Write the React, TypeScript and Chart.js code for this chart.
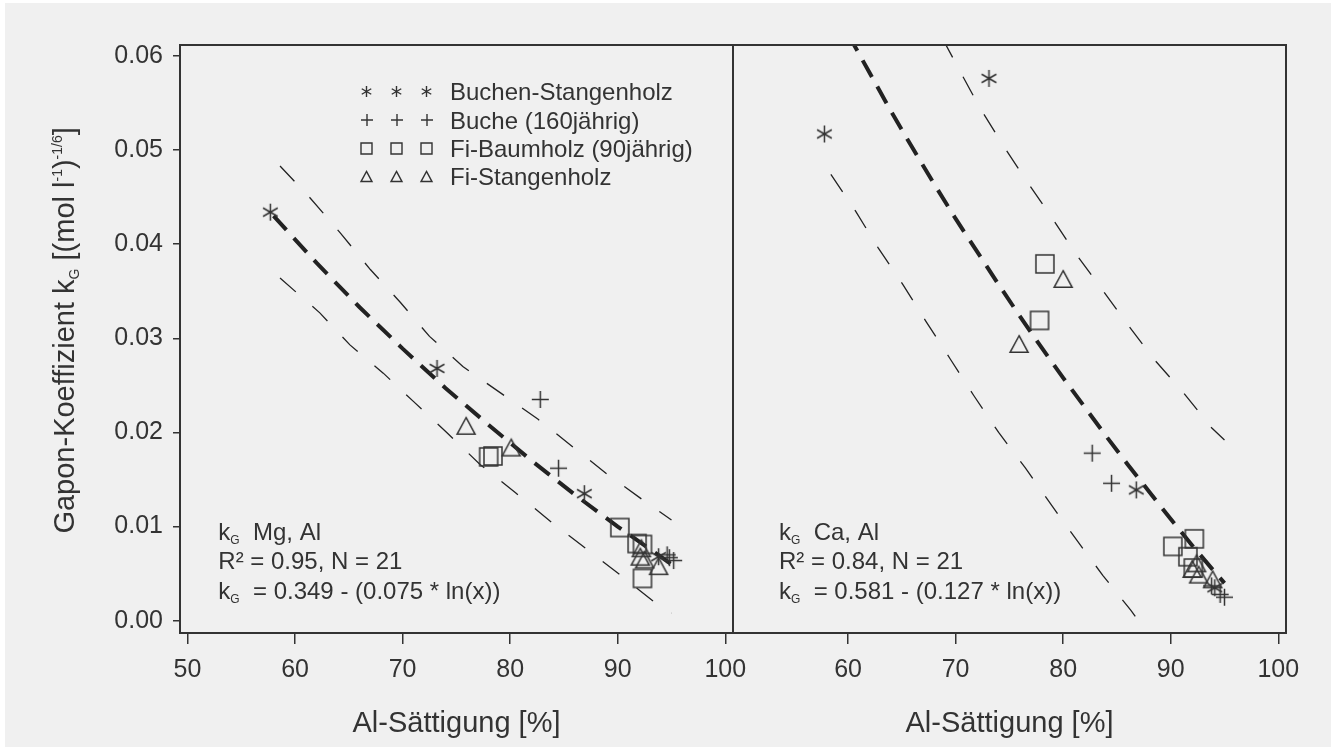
import React, { useEffect, useRef } from "react";
import { Chart, registerables } from "chart.js";

Chart.register(...registerables);

type Pt = { x: number; y: number };
const pts = (a: number[][]): Pt[] => a.map(([x, y]) => ({ x, y }));

// ---------- axes ----------
const X_MIN = 49.3;
const X_MAX = 100.72;
const Y_MIN = -0.0013;
const Y_MAX = 0.06115;
const X_TICKS_LEFT = [50, 60, 70, 80, 90, 100];
const X_TICKS_RIGHT = [60, 70, 80, 90, 100];
const Y_TICKS = [0, 0.01, 0.02, 0.03, 0.04, 0.05, 0.06];
const X_TITLE = "Al-Sättigung [%]";

// ---------- legend ----------
const SERIES_LABELS = ["Buchen-Stangenholz", "Buche (160jährig)", "Fi-Baumholz (90jährig)", "Fi-Stangenholz"];

// ---------- left panel: kG Mg, Al ----------
const MG_BUCHEN_STANGENHOLZ = [[57.7, 0.0434], [73.2, 0.0268], [86.9, 0.0135], [93.8, 0.0068]];
const MG_BUCHE_160 = [[82.8, 0.0235], [84.5, 0.0162], [94.6, 0.0070], [94.8, 0.0067], [95.2, 0.0064]];
const MG_FI_BAUMHOLZ = [[78.0, 0.0174], [78.4, 0.0175], [90.2, 0.0099], [91.8, 0.0082], [92.3, 0.0081], [92.3, 0.0045]];
const MG_FI_STANGENHOLZ = [[75.9, 0.0207], [80.1, 0.0184], [92.1, 0.0068], [92.2, 0.0077], [92.5, 0.0065], [93.8, 0.0058]];
const MG_FIT = [[58, 0.0430], [62, 0.0380], [66, 0.0333], [70, 0.0289], [74, 0.0247], [78, 0.0208], [82, 0.0170], [86, 0.0134], [90, 0.0100], [94, 0.0068], [95, 0.0060]];
const MG_UPPER = [[58.6, 0.0483], [61.4, 0.0449], [64.2, 0.0412], [67.0, 0.0373], [69.8, 0.0338], [72.5, 0.0302], [75.6, 0.0270], [79.1, 0.0242], [82.6, 0.0214], [85.9, 0.0184], [89.1, 0.0155], [92.5, 0.0127], [95.0, 0.0107]];
const MG_LOWER = [[58.6, 0.0364], [62.3, 0.0327], [65.1, 0.0293], [68.2, 0.0263], [71.0, 0.0233], [74.1, 0.0200], [77.2, 0.0166], [80.5, 0.0136], [83.7, 0.0106], [87.0, 0.0077], [90.2, 0.0049], [93.5, 0.0019], [95.0, 0.0008]];
const MG_NOTE = { element: "Mg, Al", r2: "R² = 0.95, N = 21", eq: "= 0.349 - (0.075 * ln(x))" };

// ---------- right panel: kG Ca, Al ----------
const CA_BUCHEN_STANGENHOLZ = [[57.8, 0.0517], [73.1, 0.0576], [86.8, 0.0139], [94.1, 0.0035]];
const CA_BUCHE_160 = [[82.7, 0.0178], [84.5, 0.0146], [93.8, 0.0037], [94.6, 0.0028], [95.0, 0.0025]];
const CA_FI_BAUMHOLZ = [[78.3, 0.0379], [77.8, 0.0319], [90.2, 0.0079], [92.2, 0.0087], [91.6, 0.0068], [92.1, 0.0056]];
const CA_FI_STANGENHOLZ = [[80.0, 0.0363], [75.9, 0.0294], [92.0, 0.0055], [92.4, 0.0061], [92.6, 0.0049], [93.9, 0.0044]];
const CA_FIT = [[60, 0.0623], [62, 0.0582], [64, 0.0541], [66, 0.0502], [68, 0.0464], [70, 0.0427], [72, 0.0392], [74, 0.0357], [76, 0.0323], [78, 0.0290], [80, 0.0258], [82, 0.0227], [84, 0.0196], [86, 0.0166], [88, 0.0137], [90, 0.0108], [92, 0.0080], [94, 0.0053], [95, 0.0040]];
const CA_UPPER = [[68.8, 0.0618], [70.2, 0.0588], [72.2, 0.0546], [74.3, 0.0507], [76.6, 0.0467], [78.9, 0.0429], [81.1, 0.0391], [83.6, 0.0352], [86.1, 0.0313], [88.5, 0.0277], [91.2, 0.0242], [93.8, 0.0205], [95.0, 0.0192]];
const CA_LOWER = [[58.4, 0.0474], [60.7, 0.0435], [62.8, 0.0396], [65.1, 0.0357], [67.3, 0.0317], [69.5, 0.0278], [71.7, 0.0239], [74.0, 0.0200], [76.5, 0.0162], [78.9, 0.0123], [81.3, 0.0085], [83.7, 0.0048], [86.3, 0.0011], [88.0, -0.0016]];
const CA_NOTE = { element: "Ca, Al", r2: "R² = 0.84, N = 21", eq: "= 0.581 - (0.127 * ln(x))" };

// ---------- style ----------
const FONT = '"Liberation Sans", Arial, Helvetica, sans-serif';
const INK = "#333333";
const LINE_INK = "#222222";

type Kind = "asterisk" | "plus" | "square" | "triangle";
const KINDS: Kind[] = ["asterisk", "plus", "square", "triangle"];

function makeMarker(kind: Kind, size: number, lw: number): HTMLCanvasElement {
  const s = Math.ceil(size) + 6;
  const c = document.createElement("canvas");
  c.width = s;
  c.height = s;
  const g = c.getContext("2d")!;
  g.strokeStyle = INK;
  g.lineWidth = lw;
  const m = s / 2;
  const r = size / 2;
  g.beginPath();
  if (kind === "asterisk") {
    for (let k = 0; k < 3; k++) {
      const a = Math.PI / 2 + (k * Math.PI) / 3;
      g.moveTo(m + Math.cos(a) * r, m - Math.sin(a) * r);
      g.lineTo(m - Math.cos(a) * r, m + Math.sin(a) * r);
    }
  } else if (kind === "plus") {
    g.moveTo(m - r, m);
    g.lineTo(m + r, m);
    g.moveTo(m, m - r);
    g.lineTo(m, m + r);
  } else if (kind === "square") {
    g.rect(m - r, m - r, size, size);
  } else {
    const h = size * 0.92;
    g.moveTo(m, m - h / 2);
    g.lineTo(m + r, m + h / 2);
    g.lineTo(m - r, m + h / 2);
    g.closePath();
  }
  g.stroke();
  return c;
}

type Seg = { t: string; k?: "sub" | "sup" };

function drawSegs(ctx: CanvasRenderingContext2D, segs: Seg[], x: number, y: number, size: number, small: number, align: "left" | "center") {
  const widths = segs.map((s) => {
    ctx.font = `${s.k ? small : size}px ${FONT}`;
    return ctx.measureText(s.t).width;
  });
  const total = widths.reduce((a, b) => a + b, 0);
  let cx = align === "center" ? x - total / 2 : x;
  ctx.textAlign = "left";
  ctx.textBaseline = "alphabetic";
  segs.forEach((s, i) => {
    ctx.font = `${s.k ? small : size}px ${FONT}`;
    const dy = s.k === "sub" ? size * 0.18 : s.k === "sup" ? -size * 0.42 : 0;
    ctx.fillText(s.t, cx, y + dy);
    cx += widths[i];
  });
}

interface PanelSpec {
  series: number[][][];
  fit: number[][];
  upper: number[][];
  lower: number[][];
  note: { element: string; r2: string; eq: string };
  xTicks: number[];
  showY: boolean;
  legend: boolean;
  padding: { left: number; right: number; top: number; bottom: number };
  noteDx: number;
}

function buildConfig(p: PanelSpec, markers: Record<string, HTMLCanvasElement>, legendMarkers: Record<string, HTMLCanvasElement>): any {
  const markerSets = p.series.map((data, i) => ({
    label: SERIES_LABELS[i],
    data: pts(data),
    showLine: false,
    pointStyle: markers[KINDS[i]],
    pointRadius: 8,
    pointHoverRadius: 8,
  }));
  const lineSet = (data: number[][], width: number, dash: number[]) => ({
    data: pts(data),
    showLine: true,
    pointRadius: 0,
    pointHoverRadius: 0,
    borderColor: LINE_INK,
    borderWidth: width,
    borderDash: dash,
    borderCapStyle: "butt",
    tension: 0,
    fill: false,
  });

  const decor = {
    id: "decor",
    afterDraw(chart: any) {
      const ctx: CanvasRenderingContext2D = chart.ctx;
      const a = chart.chartArea;
      ctx.save();
      // frame
      ctx.strokeStyle = INK;
      ctx.lineWidth = 2;
      ctx.strokeRect(a.left, a.top, a.right - a.left, a.bottom - a.top);
      ctx.fillStyle = INK;
      // annotation
      const nx = a.left + p.noteDx;
      drawSegs(ctx, [{ t: "k" }, { t: "G", k: "sub" }, { t: "  " + p.note.element }], nx, 539.5, 24, 12, "left");
      drawSegs(ctx, [{ t: p.note.r2 }], nx, 569, 24, 12, "left");
      drawSegs(ctx, [{ t: "k" }, { t: "G", k: "sub" }, { t: "  " + p.note.eq }], nx, 598.5, 24, 12, "left");
      // x title
      drawSegs(ctx, [{ t: X_TITLE }], (a.left + a.right) / 2, 731.5, 29, 14, "center");
      // legend
      if (p.legend) {
        SERIES_LABELS.forEach((lab, i) => {
          const cy = 91.7 + 28.3 * i;
          const img = legendMarkers[KINDS[i]];
          [186.7, 216.7, 246.7].forEach((dx) => {
            ctx.drawImage(img, Math.round(a.left + dx - img.width / 2), Math.round(cy - img.height / 2));
          });
          drawSegs(ctx, [{ t: lab }], a.left + 270, cy + 8.6, 24, 12, "left");
        });
      }
      // y title
      if (p.showY) {
        ctx.translate(74, 330.4);
        ctx.rotate(-Math.PI / 2);
        drawSegs(
          ctx,
          [
            { t: "Gapon-Koeffizient k" },
            { t: "G", k: "sub" },
            { t: " [(mol l" },
            { t: "-1", k: "sup" },
            { t: ")" },
            { t: "-1/6", k: "sup" },
            { t: "]" },
          ],
          0,
          0,
          29,
          14,
          "center"
        );
      }
      ctx.restore();
    },
  };

  return {
    type: "scatter",
    data: {
      datasets: [
        ...markerSets,
        lineSet(p.fit, 4, [19, 11]),
        lineSet(p.upper, 1.3, [21, 22]),
        lineSet(p.lower, 1.3, [21, 22]),
      ],
    },
    options: {
      responsive: false,
      animation: false,
      devicePixelRatio: 1,
      events: [],
      layout: { autoPadding: false, padding: p.padding },
      plugins: { legend: { display: false }, tooltip: { enabled: false } },
      scales: {
        x: {
          type: "linear",
          min: X_MIN,
          max: X_MAX,
          afterBuildTicks: (s: any) => {
            s.ticks = p.xTicks.map((v) => ({ value: v }));
          },
          afterFit: (s: any) => {
            s.height = 116;
          },
          grid: { display: true, drawOnChartArea: false, drawTicks: true, tickLength: 11, color: INK, lineWidth: 1.5 },
          border: { display: false },
          ticks: {
            color: INK,
            font: { family: FONT, size: 25 },
            padding: 11,
            maxRotation: 0,
            autoSkip: false,
            callback: (v: any) => String(v),
          },
        },
        y: {
          type: "linear",
          display: p.showY,
          min: Y_MIN,
          max: Y_MAX,
          afterBuildTicks: (s: any) => {
            s.ticks = Y_TICKS.map((v) => ({ value: v }));
          },
          afterFit: (s: any) => {
            s.width = p.showY ? 180 : 0;
          },
          grid: { display: true, drawOnChartArea: false, drawTicks: true, tickLength: 7, color: INK, lineWidth: 1.5 },
          border: { display: false },
          ticks: {
            color: INK,
            font: { family: FONT, size: 25 },
            padding: 10,
            autoSkip: false,
            callback: (v: any) => Number(v).toFixed(2),
          },
        },
      },
    },
    plugins: [decor],
  };
}

export default function App() {
  const leftRef = useRef<HTMLCanvasElement>(null);
  const rightRef = useRef<HTMLCanvasElement>(null);

  useEffect(() => {
    const markers: Record<string, HTMLCanvasElement> = {
      asterisk: makeMarker("asterisk", 17, 1.5),
      plus: makeMarker("plus", 17, 1.5),
      square: makeMarker("square", 18, 1.5),
      triangle: makeMarker("triangle", 18, 1.5),
    };
    const legendMarkers: Record<string, HTMLCanvasElement> = {
      asterisk: makeMarker("asterisk", 11, 1.4),
      plus: makeMarker("plus", 12, 1.4),
      square: makeMarker("square", 11, 1.4),
      triangle: makeMarker("triangle", 11, 1.4),
    };
    const left = new Chart(
      leftRef.current!,
      buildConfig(
        {
          series: [MG_BUCHEN_STANGENHOLZ, MG_BUCHE_160, MG_FI_BAUMHOLZ, MG_FI_STANGENHOLZ],
          fit: MG_FIT,
          upper: MG_UPPER,
          lower: MG_LOWER,
          note: MG_NOTE,
          xTicks: X_TICKS_LEFT,
          showY: true,
          legend: true,
          padding: { left: 0, right: 27, top: 45, bottom: 0 },
          noteDx: 38.3,
        },
        markers,
        legendMarkers
      )
    );
    const right = new Chart(
      rightRef.current!,
      buildConfig(
        {
          series: [CA_BUCHEN_STANGENHOLZ, CA_BUCHE_160, CA_FI_BAUMHOLZ, CA_FI_STANGENHOLZ],
          fit: CA_FIT,
          upper: CA_UPPER,
          lower: CA_LOWER,
          note: CA_NOTE,
          xTicks: X_TICKS_RIGHT,
          showY: false,
          legend: false,
          padding: { left: 33, right: 50, top: 45, bottom: 0 },
          noteDx: 46,
        },
        markers,
        legendMarkers
      )
    );
    return () => {
      left.destroy();
      right.destroy();
    };
  }, []);

  return (
    <div style={{ position: "fixed", left: 0, top: 0, width: 1336, height: 749, background: "#ffffff", overflow: "hidden" }}>
      <div style={{ position: "absolute", left: 5, top: 3, width: 1326, height: 744, background: "#f0f0f0" }} />
      <canvas ref={leftRef} width={760} height={749} style={{ position: "absolute", left: 0, top: 0, width: 760, height: 749 }} />
      <canvas ref={rightRef} width={636} height={749} style={{ position: "absolute", left: 700, top: 0, width: 636, height: 749 }} />
    </div>
  );
}
